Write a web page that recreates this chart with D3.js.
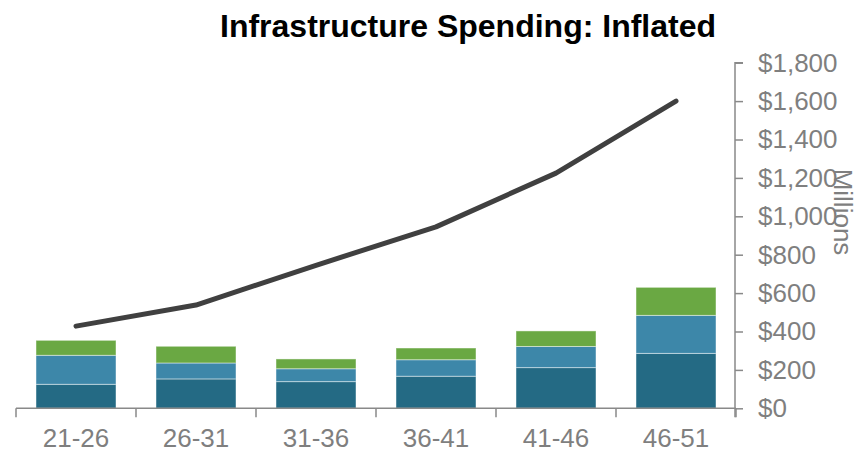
<!DOCTYPE html>
<html>
<head>
<meta charset="utf-8">
<script src="https://cdn.jsdelivr.net/npm/d3@7"></script>
<style>
  html, body { margin: 0; padding: 0; background: #ffffff; }
  svg { display: block; font-family: "Liberation Sans", Arial, sans-serif; }
</style>
</head>
<body>
<svg id="chart" width="856" height="451"></svg>
<script>
// Five-year periods
const periods = ["21-26", "26-31", "31-36", "36-41", "41-46", "46-51"];

// Stacked spending components ($ millions)
const baseSpend   = [125, 153, 139, 167, 212, 286];
const middleSpend = [151,  83,  67,  86, 110, 198];
const topSpend    = [ 78,  87,  51,  61,  81, 146];

// Cumulative inflated total ($ millions)
const inflatedTotal = [428, 538, 745, 945, 1225, 1600];

// Right axis ticks
const yTicks = [0, 200, 400, 600, 800, 1000, 1200, 1400, 1600, 1800];

const seriesKeys = ["base", "middle", "top"];
const seriesColors = { base: "#246a84", middle: "#3d87a9", top: "#6aa843" };

const rows = periods.map((p, i) => ({
  period: p, base: baseSpend[i], middle: middleSpend[i], top: topSpend[i]
}));

const svg = d3.select("#chart");
const axisColor = "#898989";
const textColor = "#7f7f7f";

const x = d3.scaleBand()
  .domain(periods)
  .range([16, 736])
  .paddingInner(1 / 3)
  .paddingOuter(1 / 6);

const y = d3.scaleLinear()
  .domain([0, 1800])
  .range([408.3, 62.7]);

// Stacked bars
const stacked = d3.stack().keys(seriesKeys)(rows);
svg.append("g")
  .selectAll("g")
  .data(stacked)
  .join("g")
  .attr("fill", d => seriesColors[d.key])
  .selectAll("rect")
  .data(d => d)
  .join("rect")
  .attr("x", d => x(d.data.period))
  .attr("width", x.bandwidth())
  .attr("y", d => y(d[1]))
  .attr("height", d => y(d[0]) - y(d[1]))
  .attr("stroke", "rgba(255,255,255,0.45)")
  .attr("stroke-width", 1);

// Inflated total line
const line = d3.line()
  .x((d, i) => x(periods[i]) + x.bandwidth() / 2)
  .y(d => y(d));
svg.append("path")
  .datum(inflatedTotal)
  .attr("d", line)
  .attr("fill", "none")
  .attr("stroke", "#404040")
  .attr("stroke-width", 5)
  .attr("stroke-linecap", "round")
  .attr("stroke-linejoin", "round");

// Bottom category axis: ticks sit on the period boundaries
const xAxisG = svg.append("g").attr("transform", `translate(0,${y(0)})`);
const [x0, x1] = x.range();
xAxisG.append("line")
  .attr("x1", x0).attr("x2", x1)
  .attr("stroke", axisColor).attr("stroke-width", 1.5);
const boundaries = d3.range(periods.length + 1).map(i => x0 + i * x.step());
xAxisG.selectAll("line.tick")
  .data(boundaries)
  .join("line")
  .attr("class", "tick")
  .attr("x1", d => d).attr("x2", d => d)
  .attr("y1", 0).attr("y2", 9)
  .attr("stroke", axisColor).attr("stroke-width", 1.5);
xAxisG.selectAll("text")
  .data(periods)
  .join("text")
  .attr("x", d => x(d) + x.bandwidth() / 2)
  .attr("y", 39)
  .attr("text-anchor", "middle")
  .attr("fill", textColor)
  .attr("font-size", 26)
  .text(d => d);

// Right value axis
const fmt = d3.format(",");
const yAxis = d3.axisRight(y)
  .tickValues(yTicks)
  .tickSize(8)
  .tickPadding(15)
  .tickFormat(d => "$" + fmt(d));
const yAxisG = svg.append("g")
  .attr("transform", `translate(735,0)`)
  .call(yAxis);
yAxisG.select(".domain").attr("stroke", axisColor).attr("stroke-width", 1.5)
  .attr("d", `M8,${y(1800)}H0V${y(0) + 9}`);
yAxisG.selectAll(".tick line").attr("stroke", axisColor).attr("stroke-width", 1.5);
yAxisG.selectAll(".tick text")
  .attr("fill", textColor)
  .attr("font-size", 26)
  .attr("font-family", "Liberation Sans, Arial, sans-serif");

// Axis title
svg.append("text")
  .attr("transform", "translate(834,212) rotate(90)")
  .attr("text-anchor", "middle")
  .attr("fill", textColor)
  .attr("font-size", 26)
  .text("Millions");

// Chart title
svg.append("text")
  .attr("x", 468)
  .attr("y", 37)
  .attr("text-anchor", "middle")
  .attr("font-weight", "bold")
  .attr("font-size", 32)
  .attr("fill", "#000000")
  .text("Infrastructure Spending: Inflated");
</script>
</body>
</html>
